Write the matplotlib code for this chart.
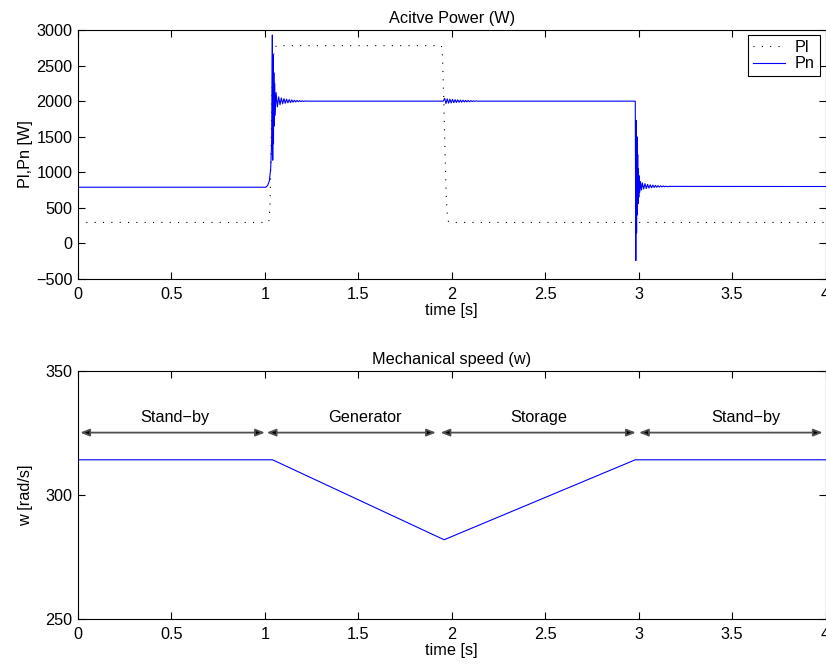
import numpy as np
import matplotlib
matplotlib.use("Agg")
import matplotlib.pyplot as plt

plt.rcParams['font.family'] = ['Liberation Sans', 'DejaVu Sans']
FS = 11.7

# ---- Active power: load demand Pl (dotted) ----
pl_t = [0.0, 1.018, 1.023, 1.028, 1.033, 1.038, 1.045, 1.052, 1.063,
        1.945, 1.950, 1.957, 1.964, 1.970, 1.976, 1.982, 1.990, 4.0]
pl_w = [295, 295, 330, 600, 1300, 2100, 2600, 2750, 2780,
        2780, 2650, 2050, 1300, 700, 400, 310, 295, 295]

# ---- Active power: network Pn (blue), read point by point incl. ringing ----
pn_t = [0.0, 1.005, 1.015, 1.024, 1.031, 1.036, 1.040, 1.042, 1.044, 1.046,
        1.048, 1.050, 1.052, 1.055, 1.060, 1.067, 1.074, 1.081, 1.088, 1.095,
        1.102, 1.109, 1.116, 1.123, 1.130, 1.137, 1.144, 1.151, 1.158, 1.165,
        1.172, 1.179, 1.186, 1.193, 1.200, 1.207, 1.214, 1.225,
        1.955, 1.962, 1.969, 1.976, 1.983, 1.990, 1.997, 2.004, 2.011, 2.018,
        2.025, 2.032, 2.039, 2.046, 2.053, 2.060, 2.067, 2.074, 2.081, 2.088,
        2.095, 2.102, 2.109, 2.116, 2.123, 2.130, 2.140,
        2.982, 2.985, 2.987, 2.989, 2.991, 2.993, 2.995, 2.997, 2.999, 3.001,
        3.003, 3.006, 3.010, 3.015, 3.020, 3.027, 3.034, 3.041, 3.048, 3.055,
        3.062, 3.069, 3.076, 3.083, 3.090, 3.097, 3.104, 3.111, 3.118, 3.125,
        3.132, 3.139, 3.146, 3.153, 3.165, 4.0]
pn_w = [790, 790, 815, 880, 1050, 1400, 2930, 1170, 2650, 1400,
        2400, 1650, 2250, 1800, 2120, 1920, 2060, 1950, 2045, 1962,
        2035, 1970, 2028, 1976, 2022, 1981, 2017, 1985, 2013, 1989,
        2010, 1992, 2007, 1994, 2005, 1996, 2003, 2000,
        2000, 2040, 1966, 2032, 1972, 2027, 1975, 2024, 1978, 2021,
        1981, 2018, 1984, 2015, 1986, 2013, 1988, 2011, 1990, 2009,
        1992, 2007, 1994, 2005, 1996, 2004, 2000,
        2000, -240, 1730, 150, 1500, 400, 1250, 560, 1050, 650,
        950, 720, 870, 750, 850, 765, 840, 772, 830, 778,
        824, 782, 820, 786, 816, 789, 812, 792, 810, 794,
        808, 796, 806, 798, 802, 800]

# ---- Mechanical speed ----
w_t = [0.0, 1.041, 1.959, 2.982, 4.0]
w_v = [314.16, 314.16, 282.0, 314.16, 314.16]

# operating modes (arrow spans and label positions)
mode_names = ['Stand\u2212by', 'Generator', 'Storage', 'Stand\u2212by']
mode_start = [0.012, 1.010, 1.940, 3.002]
mode_end = [1.000, 1.915, 2.985, 3.985]
mode_label_x = [0.517, 1.534, 2.464, 3.571]
arrow_y = 325.1
label_y = 331.3

fig = plt.figure(figsize=(8.26, 6.68), dpi=100)
ax1 = fig.add_axes([78 / 826, 1 - 279 / 668, 747.5 / 826, 249 / 668])
ax2 = fig.add_axes([78 / 826, 1 - 619.3 / 668, 747.5 / 826, 248.6 / 668])


def style_axes(ax):
    ax.tick_params(direction='in', top=True, right=True, length=5,
                   width=0.8, labelsize=FS)
    ax.tick_params(axis='y', pad=3.8)
    ax.tick_params(axis='x', pad=5.5)
    for s in ax.spines.values():
        s.set_linewidth(0.8)


# top plot
ax1.plot(pl_t, pl_w, color='black', lw=0.8, linestyle=(0, (1, 6.5)), label='Pl')
ax1.plot(pn_t, pn_w, color='#0000ff', lw=0.8, label='Pn')
ax1.set_xlim(0, 4)
ax1.set_ylim(-500, 3000)
ax1.set_xticks(np.arange(0, 4.01, 0.5))
ax1.set_xticklabels(['0', '0.5', '1', '1.5', '2', '2.5', '3', '3.5', '4'])
ax1.set_yticks(np.arange(-500, 3001, 500))
ax1.set_title('Acitve Power (W)', fontsize=FS, pad=5)
ax1.set_xlabel('time [s]', fontsize=FS, labelpad=1)
ax1.set_ylabel('Pl,Pn [W]', fontsize=FS, va='center')
ax1.yaxis.set_label_coords(-0.07, 0.5)
style_axes(ax1)
leg = ax1.legend(loc='upper right', bbox_to_anchor=(0.992, 0.98), borderaxespad=0,
                 fontsize=FS, fancybox=False, framealpha=1, edgecolor='black',
                 handlelength=2.0, handletextpad=0.6, borderpad=0.3, labelspacing=0.1)
leg.get_frame().set_linewidth(0.8)

# bottom plot
ax2.plot(w_t, w_v, color='#0000ff', lw=0.8)
for x0, x1, name, lx in zip(mode_start, mode_end, mode_names, mode_label_x):
    ax2.annotate('', xy=(x1, arrow_y), xytext=(x0, arrow_y),
                 arrowprops=dict(arrowstyle='<|-|>,head_length=0.45,head_width=0.18',
                                 fc='black', ec='#505050', lw=1.3,
                                 shrinkA=0, shrinkB=0, mutation_scale=12))
    ax2.text(lx, label_y, name, ha='center', va='center', fontsize=FS)
ax2.set_xlim(0, 4)
ax2.set_ylim(250, 350)
ax2.set_xticks(np.arange(0, 4.01, 0.5))
ax2.set_xticklabels(['0', '0.5', '1', '1.5', '2', '2.5', '3', '3.5', '4'])
ax2.set_yticks([250, 300, 350])
ax2.set_title('Mechanical speed (w)', fontsize=FS, pad=5)
ax2.set_xlabel('time [s]', fontsize=FS, labelpad=1)
ax2.set_ylabel('w [rad/s]', fontsize=FS, va='center')
ax2.yaxis.set_label_coords(-0.07, 0.5)
style_axes(ax2)

fig.savefig('out.png', dpi=100)
